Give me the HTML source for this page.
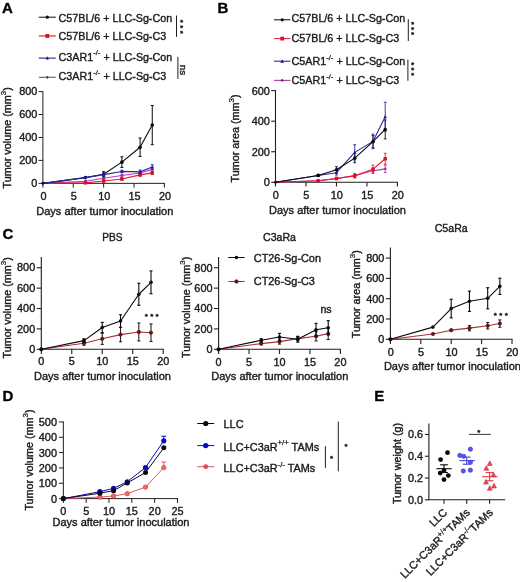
<!DOCTYPE html>
<html lang="en">
<head>
<meta charset="utf-8">
<title>Figure</title>
<style>
html,body{margin:0;padding:0;background:#fff;}
body{width:520px;height:582px;overflow:hidden;}
svg{display:block;font-family:"Liberation Sans",Arial,Helvetica,sans-serif;}
text{stroke:#1a1a1a;stroke-width:0.38px;paint-order:stroke fill;}
</style>
</head>
<body>
<svg width="520" height="582" viewBox="0 0 520 582">
<rect width="520" height="582" fill="#ffffff"/>
<text x="1.9" y="13.3" font-size="15" font-weight="bold" fill="#000">A</text>
<line x1="38.8" y1="17.2" x2="55.8" y2="17.2" stroke="#0a0a0a" stroke-width="1.0"/>
<circle cx="47.3" cy="17.2" r="1.6" fill="#0a0a0a"/>
<text x="58.6" y="22.2" font-size="10.72" fill="#1a1a1a">C57BL/6 + LLC-Sg-Con</text>
<line x1="38.8" y1="35.95" x2="55.8" y2="35.95" stroke="#e8192c" stroke-width="1.15"/>
<rect x="45.4" y="34.05" width="3.8" height="3.8" fill="#d61226"/>
<text x="58.6" y="40.05" font-size="10.72" fill="#1a1a1a">C57BL/6 + LLC-Sg-C3</text>
<line x1="38.8" y1="58.1" x2="55.8" y2="58.1" stroke="#26268e" stroke-width="1.1"/>
<polygon points="47.3,56.34 48.9,59.38 45.7,59.38" fill="#141470"/>
<text x="58.6" y="60.7" font-size="10.72" fill="#1a1a1a">C3AR1<tspan font-size="7.72" dy="-5.36" style="stroke-width:0.25px">-/-</tspan><tspan dy="5.36"> + LLC-Sg-Con</tspan></text>
<line x1="38.8" y1="77.3" x2="55.8" y2="77.3" stroke="#924092" stroke-width="1.1"/>
<polygon points="47.3,75.7 48.9,77.3 47.3,78.9 45.7,77.3" fill="#7a2478"/>
<text x="58.6" y="80.1" font-size="10.72" fill="#1a1a1a">C3AR1<tspan font-size="7.72" dy="-5.36" style="stroke-width:0.25px">-/-</tspan><tspan dy="5.36"> + LLC-Sg-C3</tspan></text>
<line x1="176.5" y1="15.5" x2="176.5" y2="36.9" stroke="#1f1f1f" stroke-width="1.0"/>
<text x="178" y="19.7" font-size="8.0" transform="rotate(90 178 19.7)" fill="#1a1a1a" letter-spacing="2.39" style="stroke-width:0.45px;stroke-linejoin:round">***</text>
<line x1="177.9" y1="56.9" x2="177.9" y2="79" stroke="#1f1f1f" stroke-width="1.0"/>
<text x="180.4" y="70" font-size="9.9" text-anchor="middle" transform="rotate(90 180.4 70)" fill="#1a1a1a">ns</text>
<path d="M42.9 91.09V183.35H164.9" fill="none" stroke="#1f1f1f" stroke-width="1.0"/>
<line x1="38.6" y1="183.35" x2="42.9" y2="183.35" stroke="#1f1f1f" stroke-width="1.0"/>
<text x="37.3" y="187.1" font-size="10.9" text-anchor="end" fill="#1a1a1a">0</text>
<line x1="38.6" y1="160.41" x2="42.9" y2="160.41" stroke="#1f1f1f" stroke-width="1.0"/>
<text x="37.3" y="164.16" font-size="10.9" text-anchor="end" fill="#1a1a1a">200</text>
<line x1="38.6" y1="137.47" x2="42.9" y2="137.47" stroke="#1f1f1f" stroke-width="1.0"/>
<text x="37.3" y="141.22" font-size="10.9" text-anchor="end" fill="#1a1a1a">400</text>
<line x1="38.6" y1="114.53" x2="42.9" y2="114.53" stroke="#1f1f1f" stroke-width="1.0"/>
<text x="37.3" y="118.28" font-size="10.9" text-anchor="end" fill="#1a1a1a">600</text>
<line x1="38.6" y1="91.59" x2="42.9" y2="91.59" stroke="#1f1f1f" stroke-width="1.0"/>
<text x="37.3" y="95.34" font-size="10.9" text-anchor="end" fill="#1a1a1a">800</text>
<line x1="42.9" y1="183.35" x2="42.9" y2="187.65" stroke="#1f1f1f" stroke-width="1.0"/>
<text x="43.5" y="199.9" font-size="10.9" text-anchor="middle" fill="#1a1a1a">0</text>
<line x1="73.28" y1="183.35" x2="73.28" y2="187.65" stroke="#1f1f1f" stroke-width="1.0"/>
<text x="73.88" y="199.9" font-size="10.9" text-anchor="middle" fill="#1a1a1a">5</text>
<line x1="103.65" y1="183.35" x2="103.65" y2="187.65" stroke="#1f1f1f" stroke-width="1.0"/>
<text x="104.25" y="199.9" font-size="10.9" text-anchor="middle" fill="#1a1a1a">10</text>
<line x1="134.03" y1="183.35" x2="134.03" y2="187.65" stroke="#1f1f1f" stroke-width="1.0"/>
<text x="134.62" y="199.9" font-size="10.9" text-anchor="middle" fill="#1a1a1a">15</text>
<line x1="164.4" y1="183.35" x2="164.4" y2="187.65" stroke="#1f1f1f" stroke-width="1.0"/>
<text x="165" y="199.9" font-size="10.9" text-anchor="middle" fill="#1a1a1a">20</text>
<text x="104.8" y="214.9" font-size="11.0" text-anchor="middle" fill="#1a1a1a">Days after tumor inoculation</text>
<text x="11.2" y="137.8" font-size="10.8" text-anchor="middle" transform="rotate(-90 11.2 137.8)" fill="#1a1a1a">Tumor volume (mm<tspan font-size="7.99" dy="-5.08" style="stroke-width:0.25px">3</tspan><tspan dy="5.08">)</tspan></text>
<path d="M85.42 180.71V181.86" fill="none" stroke="#b83cb4" stroke-width="0.9"/>
<path d="M83.92 180.71H86.92" fill="none" stroke="#b83cb4" stroke-width="0.9"/>
<path d="M83.92 181.86H86.92" fill="none" stroke="#b83cb4" stroke-width="0.9"/>
<path d="M103.65 177.04V179.34" fill="none" stroke="#b83cb4" stroke-width="0.9"/>
<path d="M102.15 177.04H105.15" fill="none" stroke="#b83cb4" stroke-width="0.9"/>
<path d="M102.15 179.34H105.15" fill="none" stroke="#b83cb4" stroke-width="0.9"/>
<path d="M121.88 174.17V176.93" fill="none" stroke="#b83cb4" stroke-width="0.9"/>
<path d="M120.38 174.17H123.38" fill="none" stroke="#b83cb4" stroke-width="0.9"/>
<path d="M120.38 176.93H123.38" fill="none" stroke="#b83cb4" stroke-width="0.9"/>
<path d="M140.1 171.42V174.63" fill="none" stroke="#b83cb4" stroke-width="0.9"/>
<path d="M138.6 171.42H141.6" fill="none" stroke="#b83cb4" stroke-width="0.9"/>
<path d="M138.6 174.63H141.6" fill="none" stroke="#b83cb4" stroke-width="0.9"/>
<path d="M152.25 167.29V171.42" fill="none" stroke="#b83cb4" stroke-width="0.9"/>
<path d="M150.75 167.29H153.75" fill="none" stroke="#b83cb4" stroke-width="0.9"/>
<path d="M150.75 171.42H153.75" fill="none" stroke="#b83cb4" stroke-width="0.9"/>
<path d="M42.9 183.35 L85.42 181.29 L103.65 178.19 L121.88 175.55 L140.1 173.03 L152.25 169.36" fill="none" stroke="#b83cb4" stroke-width="1.1" stroke-linejoin="round"/>
<polygon points="85.42,179.59 87.12,181.29 85.42,182.99 83.72,181.29" fill="#9a2e98"/>
<polygon points="103.65,176.49 105.35,178.19 103.65,179.89 101.95,178.19" fill="#9a2e98"/>
<polygon points="121.88,173.85 123.58,175.55 121.88,177.25 120.17,175.55" fill="#9a2e98"/>
<polygon points="140.1,171.33 141.8,173.03 140.1,174.73 138.4,173.03" fill="#9a2e98"/>
<polygon points="152.25,167.66 153.95,169.36 152.25,171.06 150.55,169.36" fill="#9a2e98"/>
<path d="M103.65 180.14V181.97" fill="none" stroke="#e8192c" stroke-width="0.9"/>
<path d="M102.15 180.14H105.15" fill="none" stroke="#e8192c" stroke-width="0.9"/>
<path d="M102.15 181.97H105.15" fill="none" stroke="#e8192c" stroke-width="0.9"/>
<path d="M121.88 177.84V180.14" fill="none" stroke="#e8192c" stroke-width="0.9"/>
<path d="M120.38 177.84H123.38" fill="none" stroke="#e8192c" stroke-width="0.9"/>
<path d="M120.38 180.14H123.38" fill="none" stroke="#e8192c" stroke-width="0.9"/>
<path d="M140.1 173.49V176.24" fill="none" stroke="#e8192c" stroke-width="0.9"/>
<path d="M138.6 173.49H141.6" fill="none" stroke="#e8192c" stroke-width="0.9"/>
<path d="M138.6 176.24H141.6" fill="none" stroke="#e8192c" stroke-width="0.9"/>
<path d="M152.25 171.31V174.52" fill="none" stroke="#e8192c" stroke-width="0.9"/>
<path d="M150.75 171.31H153.75" fill="none" stroke="#e8192c" stroke-width="0.9"/>
<path d="M150.75 174.52H153.75" fill="none" stroke="#e8192c" stroke-width="0.9"/>
<path d="M42.9 183.35 L85.42 182.89 L103.65 181.06 L121.88 178.99 L140.1 174.86 L152.25 172.91" fill="none" stroke="#e8192c" stroke-width="1.1" stroke-linejoin="round"/>
<rect x="83.72" y="181.19" width="3.4" height="3.4" fill="#d61226"/>
<rect x="101.95" y="179.36" width="3.4" height="3.4" fill="#d61226"/>
<rect x="120.17" y="177.29" width="3.4" height="3.4" fill="#d61226"/>
<rect x="138.4" y="173.16" width="3.4" height="3.4" fill="#d61226"/>
<rect x="150.55" y="171.21" width="3.4" height="3.4" fill="#d61226"/>
<path d="M85.42 176.7V178.53" fill="none" stroke="#0a0a0a" stroke-width="1.0"/>
<path d="M83.92 176.7H86.92" fill="none" stroke="#0a0a0a" stroke-width="1.0"/>
<path d="M83.92 178.53H86.92" fill="none" stroke="#0a0a0a" stroke-width="1.0"/>
<path d="M103.65 171.65V176.7" fill="none" stroke="#0a0a0a" stroke-width="1.0"/>
<path d="M102.15 171.65H105.15" fill="none" stroke="#0a0a0a" stroke-width="1.0"/>
<path d="M102.15 176.7H105.15" fill="none" stroke="#0a0a0a" stroke-width="1.0"/>
<path d="M121.88 156.85V167.41" fill="none" stroke="#0a0a0a" stroke-width="1.0"/>
<path d="M120.38 156.85H123.38" fill="none" stroke="#0a0a0a" stroke-width="1.0"/>
<path d="M120.38 167.41H123.38" fill="none" stroke="#0a0a0a" stroke-width="1.0"/>
<path d="M140.1 138.04V156.4" fill="none" stroke="#0a0a0a" stroke-width="1.0"/>
<path d="M138.6 138.04H141.6" fill="none" stroke="#0a0a0a" stroke-width="1.0"/>
<path d="M138.6 156.4H141.6" fill="none" stroke="#0a0a0a" stroke-width="1.0"/>
<path d="M152.25 105.47V144.7" fill="none" stroke="#0a0a0a" stroke-width="1.0"/>
<path d="M150.75 105.47H153.75" fill="none" stroke="#0a0a0a" stroke-width="1.0"/>
<path d="M150.75 144.7H153.75" fill="none" stroke="#0a0a0a" stroke-width="1.0"/>
<path d="M42.9 183.35 L85.42 177.62 L103.65 174.17 L121.88 162.13 L140.1 147.22 L152.25 125.08" fill="none" stroke="#0a0a0a" stroke-width="1.1" stroke-linejoin="round"/>
<circle cx="85.42" cy="177.62" r="1.8" fill="#0a0a0a"/>
<circle cx="103.65" cy="174.17" r="1.8" fill="#0a0a0a"/>
<circle cx="121.88" cy="162.13" r="1.8" fill="#0a0a0a"/>
<circle cx="140.1" cy="147.22" r="1.8" fill="#0a0a0a"/>
<circle cx="152.25" cy="125.08" r="1.8" fill="#0a0a0a"/>
<path d="M85.42 176.93V178.3" fill="none" stroke="#2828a4" stroke-width="0.9"/>
<path d="M83.92 176.93H86.92" fill="none" stroke="#2828a4" stroke-width="0.9"/>
<path d="M83.92 178.3H86.92" fill="none" stroke="#2828a4" stroke-width="0.9"/>
<path d="M103.65 173.26V176.01" fill="none" stroke="#2828a4" stroke-width="0.9"/>
<path d="M102.15 173.26H105.15" fill="none" stroke="#2828a4" stroke-width="0.9"/>
<path d="M102.15 176.01H105.15" fill="none" stroke="#2828a4" stroke-width="0.9"/>
<path d="M121.88 170.27V172.57" fill="none" stroke="#2828a4" stroke-width="0.9"/>
<path d="M120.38 170.27H123.38" fill="none" stroke="#2828a4" stroke-width="0.9"/>
<path d="M120.38 172.57H123.38" fill="none" stroke="#2828a4" stroke-width="0.9"/>
<path d="M140.1 170.04V173.72" fill="none" stroke="#2828a4" stroke-width="0.9"/>
<path d="M138.6 170.04H141.6" fill="none" stroke="#2828a4" stroke-width="0.9"/>
<path d="M138.6 173.72H141.6" fill="none" stroke="#2828a4" stroke-width="0.9"/>
<path d="M152.25 164.77V169.36" fill="none" stroke="#2828a4" stroke-width="0.9"/>
<path d="M150.75 164.77H153.75" fill="none" stroke="#2828a4" stroke-width="0.9"/>
<path d="M150.75 169.36H153.75" fill="none" stroke="#2828a4" stroke-width="0.9"/>
<path d="M42.9 183.35 L85.42 177.62 L103.65 174.63 L121.88 171.42 L140.1 171.88 L152.25 167.06" fill="none" stroke="#2828a4" stroke-width="1.1" stroke-linejoin="round"/>
<polygon points="85.42,175.75 87.12,178.98 83.72,178.98" fill="#1a1ab4"/>
<polygon points="103.65,172.76 105.35,175.99 101.95,175.99" fill="#1a1ab4"/>
<polygon points="121.88,169.55 123.58,172.78 120.17,172.78" fill="#1a1ab4"/>
<polygon points="140.1,170.01 141.8,173.24 138.4,173.24" fill="#1a1ab4"/>
<polygon points="152.25,165.19 153.95,168.42 150.55,168.42" fill="#1a1ab4"/>
<polygon points="42.9,181.45 44.8,183.35 42.9,185.25 41,183.35" fill="#0a0a0a"/>
<text x="217.4" y="13" font-size="15" font-weight="bold" fill="#000">B</text>
<line x1="274" y1="19.8" x2="290.4" y2="19.8" stroke="#0a0a0a" stroke-width="1.0"/>
<circle cx="282.2" cy="19.8" r="1.6" fill="#0a0a0a"/>
<text x="291.6" y="22.3" font-size="10.72" fill="#1a1a1a">C57BL/6 + LLC-Sg-Con</text>
<line x1="274" y1="38.6" x2="290.4" y2="38.6" stroke="#e8192c" stroke-width="1.0"/>
<rect x="280.3" y="36.7" width="3.8" height="3.8" fill="#d61226"/>
<text x="291.6" y="41.9" font-size="10.72" fill="#1a1a1a">C57BL/6 + LLC-Sg-C3</text>
<line x1="274" y1="61.2" x2="290.4" y2="61.2" stroke="#2c2cb0" stroke-width="1.1"/>
<polygon points="282.2,59.22 284,62.64 280.4,62.64" fill="#141470"/>
<text x="291.6" y="64.9" font-size="10.72" fill="#1a1a1a">C5AR1<tspan font-size="7.72" dy="-5.36" style="stroke-width:0.25px">-/-</tspan><tspan dy="5.36"> + LLC-Sg-Con</tspan></text>
<line x1="274" y1="80.4" x2="290.4" y2="80.4" stroke="#a840a6" stroke-width="1.1"/>
<polygon points="282.2,78.7 283.9,80.4 282.2,82.1 280.5,80.4" fill="#7a2478"/>
<text x="291.6" y="84.1" font-size="10.72" fill="#1a1a1a">C5AR1<tspan font-size="7.72" dy="-5.36" style="stroke-width:0.25px">-/-</tspan><tspan dy="5.36"> + LLC-Sg-C3</tspan></text>
<line x1="408.3" y1="19.2" x2="408.3" y2="41" stroke="#1f1f1f" stroke-width="1.0"/>
<text x="409.2" y="21.85" font-size="8.0" transform="rotate(90 409.2 21.85)" fill="#1a1a1a" letter-spacing="1.99" style="stroke-width:0.45px;stroke-linejoin:round">***</text>
<line x1="407.9" y1="59.6" x2="407.9" y2="80.8" stroke="#1f1f1f" stroke-width="1.0"/>
<text x="409.2" y="62.3" font-size="8.0" transform="rotate(90 409.2 62.3)" fill="#1a1a1a" letter-spacing="2.14" style="stroke-width:0.45px;stroke-linejoin:round">***</text>
<path d="M275.5 90.07V182.3H397.95" fill="none" stroke="#1f1f1f" stroke-width="1.1"/>
<line x1="271.2" y1="182.3" x2="275.5" y2="182.3" stroke="#1f1f1f" stroke-width="1.1"/>
<text x="269.9" y="186.2" font-size="10.9" text-anchor="end" fill="#1a1a1a">0</text>
<line x1="271.2" y1="151.74" x2="275.5" y2="151.74" stroke="#1f1f1f" stroke-width="1.1"/>
<text x="269.9" y="155.64" font-size="10.9" text-anchor="end" fill="#1a1a1a">200</text>
<line x1="271.2" y1="121.18" x2="275.5" y2="121.18" stroke="#1f1f1f" stroke-width="1.1"/>
<text x="269.9" y="125.08" font-size="10.9" text-anchor="end" fill="#1a1a1a">400</text>
<line x1="271.2" y1="90.62" x2="275.5" y2="90.62" stroke="#1f1f1f" stroke-width="1.1"/>
<text x="269.9" y="94.52" font-size="10.9" text-anchor="end" fill="#1a1a1a">600</text>
<line x1="275.5" y1="182.3" x2="275.5" y2="186.6" stroke="#1f1f1f" stroke-width="1.1"/>
<text x="275.8" y="198.8" font-size="10.9" text-anchor="middle" fill="#1a1a1a">0</text>
<line x1="305.98" y1="182.3" x2="305.98" y2="186.6" stroke="#1f1f1f" stroke-width="1.1"/>
<text x="306.28" y="198.8" font-size="10.9" text-anchor="middle" fill="#1a1a1a">5</text>
<line x1="336.45" y1="182.3" x2="336.45" y2="186.6" stroke="#1f1f1f" stroke-width="1.1"/>
<text x="336.75" y="198.8" font-size="10.9" text-anchor="middle" fill="#1a1a1a">10</text>
<line x1="366.93" y1="182.3" x2="366.93" y2="186.6" stroke="#1f1f1f" stroke-width="1.1"/>
<text x="367.23" y="198.8" font-size="10.9" text-anchor="middle" fill="#1a1a1a">15</text>
<line x1="397.4" y1="182.3" x2="397.4" y2="186.6" stroke="#1f1f1f" stroke-width="1.1"/>
<text x="397.7" y="198.8" font-size="10.9" text-anchor="middle" fill="#1a1a1a">20</text>
<text x="337.5" y="213.8" font-size="11.0" text-anchor="middle" fill="#1a1a1a">Days after tumor inoculation</text>
<text x="239.4" y="138.4" font-size="10.8" text-anchor="middle" transform="rotate(-90 239.4 138.4)" fill="#1a1a1a">Tumor area (mm<tspan font-size="7.99" dy="-5.08" style="stroke-width:0.25px">3</tspan><tspan dy="5.08">)</tspan></text>
<path d="M318.17 180.16V181.38" fill="none" stroke="#b83cb4" stroke-width="0.9"/>
<path d="M316.77 180.16H319.56" fill="none" stroke="#b83cb4" stroke-width="0.9"/>
<path d="M316.77 181.38H319.56" fill="none" stroke="#b83cb4" stroke-width="0.9"/>
<path d="M336.45 177.72V179.55" fill="none" stroke="#b83cb4" stroke-width="0.9"/>
<path d="M335.05 177.72H337.85" fill="none" stroke="#b83cb4" stroke-width="0.9"/>
<path d="M335.05 179.55H337.85" fill="none" stroke="#b83cb4" stroke-width="0.9"/>
<path d="M354.74 174.05V177.1" fill="none" stroke="#b83cb4" stroke-width="0.9"/>
<path d="M353.34 174.05H356.13" fill="none" stroke="#b83cb4" stroke-width="0.9"/>
<path d="M353.34 177.1H356.13" fill="none" stroke="#b83cb4" stroke-width="0.9"/>
<path d="M373.02 168.4V173.28" fill="none" stroke="#b83cb4" stroke-width="0.9"/>
<path d="M371.62 168.4H374.42" fill="none" stroke="#b83cb4" stroke-width="0.9"/>
<path d="M371.62 173.28H374.42" fill="none" stroke="#b83cb4" stroke-width="0.9"/>
<path d="M385.21 165.19V172.52" fill="none" stroke="#b83cb4" stroke-width="0.9"/>
<path d="M383.81 165.19H386.61" fill="none" stroke="#b83cb4" stroke-width="0.9"/>
<path d="M383.81 172.52H386.61" fill="none" stroke="#b83cb4" stroke-width="0.9"/>
<path d="M275.5 182.3 L318.17 180.77 L336.45 178.63 L354.74 175.58 L373.02 170.84 L385.21 168.85" fill="none" stroke="#b83cb4" stroke-width="1.1" stroke-linejoin="round"/>
<polygon points="318.17,179.07 319.87,180.77 318.17,182.47 316.47,180.77" fill="#9a2e98"/>
<polygon points="336.45,176.93 338.15,178.63 336.45,180.33 334.75,178.63" fill="#9a2e98"/>
<polygon points="354.74,173.88 356.44,175.58 354.74,177.28 353.04,175.58" fill="#9a2e98"/>
<polygon points="373.02,169.14 374.72,170.84 373.02,172.54 371.32,170.84" fill="#9a2e98"/>
<polygon points="385.21,167.15 386.91,168.85 385.21,170.55 383.51,168.85" fill="#9a2e98"/>
<path d="M318.17 180.16V181.38" fill="none" stroke="#e8192c" stroke-width="0.9"/>
<path d="M316.77 180.16H319.56" fill="none" stroke="#e8192c" stroke-width="0.9"/>
<path d="M316.77 181.38H319.56" fill="none" stroke="#e8192c" stroke-width="0.9"/>
<path d="M336.45 177.26V179.7" fill="none" stroke="#e8192c" stroke-width="0.9"/>
<path d="M335.05 177.26H337.85" fill="none" stroke="#e8192c" stroke-width="0.9"/>
<path d="M335.05 179.7H337.85" fill="none" stroke="#e8192c" stroke-width="0.9"/>
<path d="M354.74 173.74V178.02" fill="none" stroke="#e8192c" stroke-width="0.9"/>
<path d="M353.34 173.74H356.13" fill="none" stroke="#e8192c" stroke-width="0.9"/>
<path d="M353.34 178.02H356.13" fill="none" stroke="#e8192c" stroke-width="0.9"/>
<path d="M373.02 165.19V173.13" fill="none" stroke="#e8192c" stroke-width="0.9"/>
<path d="M371.62 165.19H374.42" fill="none" stroke="#e8192c" stroke-width="0.9"/>
<path d="M371.62 173.13H374.42" fill="none" stroke="#e8192c" stroke-width="0.9"/>
<path d="M385.21 153.27V164.27" fill="none" stroke="#e8192c" stroke-width="0.9"/>
<path d="M383.81 153.27H386.61" fill="none" stroke="#e8192c" stroke-width="0.9"/>
<path d="M383.81 164.27H386.61" fill="none" stroke="#e8192c" stroke-width="0.9"/>
<path d="M275.5 182.3 L318.17 180.77 L336.45 178.48 L354.74 175.88 L373.02 169.16 L385.21 158.77" fill="none" stroke="#e8192c" stroke-width="1.1" stroke-linejoin="round"/>
<rect x="316.47" y="179.07" width="3.4" height="3.4" fill="#d61226"/>
<rect x="334.75" y="176.78" width="3.4" height="3.4" fill="#d61226"/>
<rect x="353.04" y="174.18" width="3.4" height="3.4" fill="#d61226"/>
<rect x="371.32" y="167.46" width="3.4" height="3.4" fill="#d61226"/>
<rect x="383.51" y="157.07" width="3.4" height="3.4" fill="#d61226"/>
<path d="M318.17 174.51V176.34" fill="none" stroke="#0a0a0a" stroke-width="0.9"/>
<path d="M316.77 174.51H319.56" fill="none" stroke="#0a0a0a" stroke-width="0.9"/>
<path d="M316.77 176.34H319.56" fill="none" stroke="#0a0a0a" stroke-width="0.9"/>
<path d="M336.45 166.71V172.83" fill="none" stroke="#0a0a0a" stroke-width="0.9"/>
<path d="M335.05 166.71H337.85" fill="none" stroke="#0a0a0a" stroke-width="0.9"/>
<path d="M335.05 172.83H337.85" fill="none" stroke="#0a0a0a" stroke-width="0.9"/>
<path d="M354.74 153.57V162.74" fill="none" stroke="#0a0a0a" stroke-width="0.9"/>
<path d="M353.34 153.57H356.13" fill="none" stroke="#0a0a0a" stroke-width="0.9"/>
<path d="M353.34 162.74H356.13" fill="none" stroke="#0a0a0a" stroke-width="0.9"/>
<path d="M373.02 135.54V147.77" fill="none" stroke="#0a0a0a" stroke-width="0.9"/>
<path d="M371.62 135.54H374.42" fill="none" stroke="#0a0a0a" stroke-width="0.9"/>
<path d="M371.62 147.77H374.42" fill="none" stroke="#0a0a0a" stroke-width="0.9"/>
<path d="M385.21 119.96V138.9" fill="none" stroke="#0a0a0a" stroke-width="0.9"/>
<path d="M383.81 119.96H386.61" fill="none" stroke="#0a0a0a" stroke-width="0.9"/>
<path d="M383.81 138.9H386.61" fill="none" stroke="#0a0a0a" stroke-width="0.9"/>
<path d="M318.17 174.51V176.34" fill="none" stroke="#2828a4" stroke-width="0.9"/>
<path d="M316.77 174.51H319.56" fill="none" stroke="#2828a4" stroke-width="0.9"/>
<path d="M316.77 176.34H319.56" fill="none" stroke="#2828a4" stroke-width="0.9"/>
<path d="M336.45 170.23V175.12" fill="none" stroke="#2828a4" stroke-width="0.9"/>
<path d="M335.05 170.23H337.85" fill="none" stroke="#2828a4" stroke-width="0.9"/>
<path d="M335.05 175.12H337.85" fill="none" stroke="#2828a4" stroke-width="0.9"/>
<path d="M354.74 144.71V159.99" fill="none" stroke="#2828a4" stroke-width="0.9"/>
<path d="M353.34 144.71H356.13" fill="none" stroke="#2828a4" stroke-width="0.9"/>
<path d="M353.34 159.99H356.13" fill="none" stroke="#2828a4" stroke-width="0.9"/>
<path d="M373.02 134.02V148.68" fill="none" stroke="#2828a4" stroke-width="0.9"/>
<path d="M371.62 134.02H374.42" fill="none" stroke="#2828a4" stroke-width="0.9"/>
<path d="M371.62 148.68H374.42" fill="none" stroke="#2828a4" stroke-width="0.9"/>
<path d="M385.21 102.23V131.26" fill="none" stroke="#2828a4" stroke-width="0.9"/>
<path d="M383.81 102.23H386.61" fill="none" stroke="#2828a4" stroke-width="0.9"/>
<path d="M383.81 131.26H386.61" fill="none" stroke="#2828a4" stroke-width="0.9"/>
<path d="M275.5 182.3 L318.17 175.42 L336.45 172.67 L354.74 152.35 L373.02 141.35 L385.21 116.75" fill="none" stroke="#2828a4" stroke-width="1.1" stroke-linejoin="round"/>
<polygon points="318.17,173.55 319.87,176.78 316.47,176.78" fill="#1a1ab4"/>
<polygon points="336.45,170.8 338.15,174.03 334.75,174.03" fill="#1a1ab4"/>
<polygon points="354.74,150.48 356.44,153.71 353.04,153.71" fill="#1a1ab4"/>
<polygon points="373.02,139.48 374.72,142.71 371.32,142.71" fill="#1a1ab4"/>
<polygon points="385.21,114.88 386.91,118.11 383.51,118.11" fill="#1a1ab4"/>
<path d="M275.5 182.3 L318.17 175.42 L336.45 169.77 L354.74 158.16 L373.02 141.66 L385.21 129.43" fill="none" stroke="#0a0a0a" stroke-width="1.1" stroke-linejoin="round"/>
<circle cx="318.17" cy="175.42" r="1.8" fill="#0a0a0a"/>
<circle cx="336.45" cy="169.77" r="1.8" fill="#0a0a0a"/>
<circle cx="354.74" cy="158.16" r="1.8" fill="#0a0a0a"/>
<circle cx="373.02" cy="141.66" r="1.8" fill="#0a0a0a"/>
<circle cx="385.21" cy="129.43" r="1.8" fill="#0a0a0a"/>
<polygon points="275.5,180.4 277.4,182.3 275.5,184.2 273.6,182.3" fill="#0a0a0a"/>
<text x="2.4" y="239" font-size="15" font-weight="bold" fill="#000">C</text>
<text x="112.4" y="241.3" font-size="10.1" text-anchor="middle" fill="#1a1a1a">PBS</text>
<path d="M41.3 257V349.3H163.75" fill="none" stroke="#1f1f1f" stroke-width="1.1"/>
<line x1="36.7" y1="349.3" x2="41.3" y2="349.3" stroke="#1f1f1f" stroke-width="1.1"/>
<text x="35.2" y="352.9" font-size="10.9" text-anchor="end" fill="#1a1a1a">0</text>
<line x1="36.7" y1="328.91" x2="41.3" y2="328.91" stroke="#1f1f1f" stroke-width="1.1"/>
<text x="35.2" y="332.51" font-size="10.9" text-anchor="end" fill="#1a1a1a">200</text>
<line x1="36.7" y1="308.52" x2="41.3" y2="308.52" stroke="#1f1f1f" stroke-width="1.1"/>
<text x="35.2" y="312.12" font-size="10.9" text-anchor="end" fill="#1a1a1a">400</text>
<line x1="36.7" y1="288.13" x2="41.3" y2="288.13" stroke="#1f1f1f" stroke-width="1.1"/>
<text x="35.2" y="291.73" font-size="10.9" text-anchor="end" fill="#1a1a1a">600</text>
<line x1="36.7" y1="267.74" x2="41.3" y2="267.74" stroke="#1f1f1f" stroke-width="1.1"/>
<text x="35.2" y="271.34" font-size="10.9" text-anchor="end" fill="#1a1a1a">800</text>
<line x1="41.3" y1="349.3" x2="41.3" y2="353.9" stroke="#1f1f1f" stroke-width="1.1"/>
<text x="41.3" y="365.1" font-size="10.9" text-anchor="middle" fill="#1a1a1a">0</text>
<line x1="71.77" y1="349.3" x2="71.77" y2="353.9" stroke="#1f1f1f" stroke-width="1.1"/>
<text x="71.77" y="365.1" font-size="10.9" text-anchor="middle" fill="#1a1a1a">5</text>
<line x1="102.25" y1="349.3" x2="102.25" y2="353.9" stroke="#1f1f1f" stroke-width="1.1"/>
<text x="102.25" y="365.1" font-size="10.9" text-anchor="middle" fill="#1a1a1a">10</text>
<line x1="132.72" y1="349.3" x2="132.72" y2="353.9" stroke="#1f1f1f" stroke-width="1.1"/>
<text x="132.72" y="365.1" font-size="10.9" text-anchor="middle" fill="#1a1a1a">15</text>
<line x1="163.2" y1="349.3" x2="163.2" y2="353.9" stroke="#1f1f1f" stroke-width="1.1"/>
<text x="163.2" y="365.1" font-size="10.9" text-anchor="middle" fill="#1a1a1a">20</text>
<text x="102.5" y="379.6" font-size="11.0" text-anchor="middle" fill="#1a1a1a">Days after tumor inoculation</text>
<text x="11.2" y="307.8" font-size="10.8" text-anchor="middle" transform="rotate(-90 11.2 307.8)" fill="#1a1a1a">Tumor volume (mm<tspan font-size="7.99" dy="-5.08" style="stroke-width:0.25px">3</tspan><tspan dy="5.08">)</tspan></text>
<path d="M83.97 341.14V345.22" fill="none" stroke="#2a2222" stroke-width="1.1"/>
<path d="M82.42 341.14H85.52" fill="none" stroke="#2a2222" stroke-width="1.1"/>
<path d="M82.42 345.22H85.52" fill="none" stroke="#2a2222" stroke-width="1.1"/>
<path d="M102.25 333.19V344.41" fill="none" stroke="#2a2222" stroke-width="1.1"/>
<path d="M100.7 333.19H103.8" fill="none" stroke="#2a2222" stroke-width="1.1"/>
<path d="M100.7 344.41H103.8" fill="none" stroke="#2a2222" stroke-width="1.1"/>
<path d="M120.53 327.48V341.76" fill="none" stroke="#2a2222" stroke-width="1.1"/>
<path d="M118.98 327.48H122.08" fill="none" stroke="#2a2222" stroke-width="1.1"/>
<path d="M118.98 341.76H122.08" fill="none" stroke="#2a2222" stroke-width="1.1"/>
<path d="M138.82 323V340.94" fill="none" stroke="#2a2222" stroke-width="1.1"/>
<path d="M137.27 323H140.37" fill="none" stroke="#2a2222" stroke-width="1.1"/>
<path d="M137.27 340.94H140.37" fill="none" stroke="#2a2222" stroke-width="1.1"/>
<path d="M151.01 323.91V341.45" fill="none" stroke="#2a2222" stroke-width="1.1"/>
<path d="M149.46 323.91H152.56" fill="none" stroke="#2a2222" stroke-width="1.1"/>
<path d="M149.46 341.45H152.56" fill="none" stroke="#2a2222" stroke-width="1.1"/>
<path d="M41.3 349.3 L83.97 343.18 L102.25 338.8 L120.53 334.62 L138.82 331.97 L151.01 332.68" fill="none" stroke="#b02c36" stroke-width="1.1" stroke-linejoin="round"/>
<circle cx="41.3" cy="349.3" r="1.7" fill="#6e1520" stroke="#3a0c10" stroke-width="0.6"/>
<circle cx="83.97" cy="343.18" r="1.7" fill="#6e1520" stroke="#3a0c10" stroke-width="0.6"/>
<circle cx="102.25" cy="338.8" r="1.7" fill="#6e1520" stroke="#3a0c10" stroke-width="0.6"/>
<circle cx="120.53" cy="334.62" r="1.7" fill="#6e1520" stroke="#3a0c10" stroke-width="0.6"/>
<circle cx="138.82" cy="331.97" r="1.7" fill="#6e1520" stroke="#3a0c10" stroke-width="0.6"/>
<circle cx="151.01" cy="332.68" r="1.7" fill="#6e1520" stroke="#3a0c10" stroke-width="0.6"/>
<path d="M83.97 338.8V342.47" fill="none" stroke="#0a0a0a" stroke-width="1.1"/>
<path d="M82.42 338.8H85.52" fill="none" stroke="#0a0a0a" stroke-width="1.1"/>
<path d="M82.42 342.47H85.52" fill="none" stroke="#0a0a0a" stroke-width="1.1"/>
<path d="M102.25 322.39V332.58" fill="none" stroke="#0a0a0a" stroke-width="1.1"/>
<path d="M100.7 322.39H103.8" fill="none" stroke="#0a0a0a" stroke-width="1.1"/>
<path d="M100.7 332.58H103.8" fill="none" stroke="#0a0a0a" stroke-width="1.1"/>
<path d="M120.53 314.74V327.38" fill="none" stroke="#0a0a0a" stroke-width="1.1"/>
<path d="M118.98 314.74H122.08" fill="none" stroke="#0a0a0a" stroke-width="1.1"/>
<path d="M118.98 327.38H122.08" fill="none" stroke="#0a0a0a" stroke-width="1.1"/>
<path d="M138.82 283.24V305.26" fill="none" stroke="#0a0a0a" stroke-width="1.1"/>
<path d="M137.27 283.24H140.37" fill="none" stroke="#0a0a0a" stroke-width="1.1"/>
<path d="M137.27 305.26H140.37" fill="none" stroke="#0a0a0a" stroke-width="1.1"/>
<path d="M151.01 270.9V293.74" fill="none" stroke="#0a0a0a" stroke-width="1.1"/>
<path d="M149.46 270.9H152.56" fill="none" stroke="#0a0a0a" stroke-width="1.1"/>
<path d="M149.46 293.74H152.56" fill="none" stroke="#0a0a0a" stroke-width="1.1"/>
<path d="M41.3 349.3 L83.97 340.63 L102.25 327.48 L120.53 321.06 L138.82 294.25 L151.01 282.32" fill="none" stroke="#0a0a0a" stroke-width="1.1" stroke-linejoin="round"/>
<circle cx="41.3" cy="349.3" r="1.8" fill="#0a0a0a"/>
<circle cx="83.97" cy="340.63" r="1.8" fill="#0a0a0a"/>
<circle cx="102.25" cy="327.48" r="1.8" fill="#0a0a0a"/>
<circle cx="120.53" cy="321.06" r="1.8" fill="#0a0a0a"/>
<circle cx="138.82" cy="294.25" r="1.8" fill="#0a0a0a"/>
<circle cx="151.01" cy="282.32" r="1.8" fill="#0a0a0a"/>
<text x="144.75" y="318.9" font-size="8.0" fill="#1a1a1a" letter-spacing="2.29" style="stroke-width:0.45px;stroke-linejoin:round">***</text>
<text x="279.5" y="241.4" font-size="10.6" text-anchor="middle" fill="#1a1a1a">C3aRa</text>
<path d="M218.6 257V349.3H340.95" fill="none" stroke="#1f1f1f" stroke-width="1.1"/>
<line x1="214" y1="349.3" x2="218.6" y2="349.3" stroke="#1f1f1f" stroke-width="1.1"/>
<text x="212.5" y="353.2" font-size="10.9" text-anchor="end" fill="#1a1a1a">0</text>
<line x1="214" y1="328.91" x2="218.6" y2="328.91" stroke="#1f1f1f" stroke-width="1.1"/>
<text x="212.5" y="332.81" font-size="10.9" text-anchor="end" fill="#1a1a1a">200</text>
<line x1="214" y1="308.52" x2="218.6" y2="308.52" stroke="#1f1f1f" stroke-width="1.1"/>
<text x="212.5" y="312.42" font-size="10.9" text-anchor="end" fill="#1a1a1a">400</text>
<line x1="214" y1="288.13" x2="218.6" y2="288.13" stroke="#1f1f1f" stroke-width="1.1"/>
<text x="212.5" y="292.03" font-size="10.9" text-anchor="end" fill="#1a1a1a">600</text>
<line x1="214" y1="267.74" x2="218.6" y2="267.74" stroke="#1f1f1f" stroke-width="1.1"/>
<text x="212.5" y="271.64" font-size="10.9" text-anchor="end" fill="#1a1a1a">800</text>
<line x1="218.6" y1="349.3" x2="218.6" y2="353.9" stroke="#1f1f1f" stroke-width="1.1"/>
<text x="218.6" y="365.6" font-size="10.9" text-anchor="middle" fill="#1a1a1a">0</text>
<line x1="249.05" y1="349.3" x2="249.05" y2="353.9" stroke="#1f1f1f" stroke-width="1.1"/>
<text x="249.05" y="365.6" font-size="10.9" text-anchor="middle" fill="#1a1a1a">5</text>
<line x1="279.5" y1="349.3" x2="279.5" y2="353.9" stroke="#1f1f1f" stroke-width="1.1"/>
<text x="279.5" y="365.6" font-size="10.9" text-anchor="middle" fill="#1a1a1a">10</text>
<line x1="309.95" y1="349.3" x2="309.95" y2="353.9" stroke="#1f1f1f" stroke-width="1.1"/>
<text x="309.95" y="365.6" font-size="10.9" text-anchor="middle" fill="#1a1a1a">15</text>
<line x1="340.4" y1="349.3" x2="340.4" y2="353.9" stroke="#1f1f1f" stroke-width="1.1"/>
<text x="340.4" y="365.6" font-size="10.9" text-anchor="middle" fill="#1a1a1a">20</text>
<text x="279.8" y="379.6" font-size="11.0" text-anchor="middle" fill="#1a1a1a">Days after tumor inoculation</text>
<text x="189.6" y="307.3" font-size="10.8" text-anchor="middle" transform="rotate(-90 189.6 307.3)" fill="#1a1a1a">Tumor volume (mm<tspan font-size="7.99" dy="-5.08" style="stroke-width:0.25px">3</tspan><tspan dy="5.08">)</tspan></text>
<line x1="228.3" y1="257.5" x2="244.6" y2="257.5" stroke="#0a0a0a" stroke-width="1.0"/>
<circle cx="236.45" cy="257.5" r="1.75" fill="#0a0a0a"/>
<text x="253.8" y="261.96" font-size="10.9" fill="#1a1a1a">CT26-Sg-Con</text>
<line x1="228.3" y1="281.5" x2="244.6" y2="281.5" stroke="#b02c36" stroke-width="1.0"/>
<circle cx="236.45" cy="281.5" r="1.8" fill="#6e1520" stroke="#3a0c10" stroke-width="0.6"/>
<text x="253.8" y="285.36" font-size="10.9" fill="#1a1a1a">CT26-Sg-C3</text>
<path d="M261.23 342.37V344.81" fill="none" stroke="#2a2222" stroke-width="1.1"/>
<path d="M259.68 342.37H262.78" fill="none" stroke="#2a2222" stroke-width="1.1"/>
<path d="M259.68 344.81H262.78" fill="none" stroke="#2a2222" stroke-width="1.1"/>
<path d="M279.5 339.21V344.1" fill="none" stroke="#2a2222" stroke-width="1.1"/>
<path d="M277.95 339.21H281.05" fill="none" stroke="#2a2222" stroke-width="1.1"/>
<path d="M277.95 344.1H281.05" fill="none" stroke="#2a2222" stroke-width="1.1"/>
<path d="M297.77 336.35V340.84" fill="none" stroke="#2a2222" stroke-width="1.1"/>
<path d="M296.22 336.35H299.32" fill="none" stroke="#2a2222" stroke-width="1.1"/>
<path d="M296.22 340.84H299.32" fill="none" stroke="#2a2222" stroke-width="1.1"/>
<path d="M316.04 331.56V340.94" fill="none" stroke="#2a2222" stroke-width="1.1"/>
<path d="M314.49 331.56H317.59" fill="none" stroke="#2a2222" stroke-width="1.1"/>
<path d="M314.49 340.94H317.59" fill="none" stroke="#2a2222" stroke-width="1.1"/>
<path d="M328.22 327.69V339.51" fill="none" stroke="#2a2222" stroke-width="1.1"/>
<path d="M326.67 327.69H329.77" fill="none" stroke="#2a2222" stroke-width="1.1"/>
<path d="M326.67 339.51H329.77" fill="none" stroke="#2a2222" stroke-width="1.1"/>
<path d="M218.6 349.3 L261.23 343.59 L279.5 341.65 L297.77 338.6 L316.04 336.25 L328.22 333.6" fill="none" stroke="#b02c36" stroke-width="1.1" stroke-linejoin="round"/>
<circle cx="218.6" cy="349.3" r="1.7" fill="#6e1520" stroke="#3a0c10" stroke-width="0.6"/>
<circle cx="261.23" cy="343.59" r="1.7" fill="#6e1520" stroke="#3a0c10" stroke-width="0.6"/>
<circle cx="279.5" cy="341.65" r="1.7" fill="#6e1520" stroke="#3a0c10" stroke-width="0.6"/>
<circle cx="297.77" cy="338.6" r="1.7" fill="#6e1520" stroke="#3a0c10" stroke-width="0.6"/>
<circle cx="316.04" cy="336.25" r="1.7" fill="#6e1520" stroke="#3a0c10" stroke-width="0.6"/>
<circle cx="328.22" cy="333.6" r="1.7" fill="#6e1520" stroke="#3a0c10" stroke-width="0.6"/>
<path d="M261.23 338.7V341.96" fill="none" stroke="#0a0a0a" stroke-width="1.1"/>
<path d="M259.68 338.7H262.78" fill="none" stroke="#0a0a0a" stroke-width="1.1"/>
<path d="M259.68 341.96H262.78" fill="none" stroke="#0a0a0a" stroke-width="1.1"/>
<path d="M279.5 333.4V340.74" fill="none" stroke="#0a0a0a" stroke-width="1.1"/>
<path d="M277.95 333.4H281.05" fill="none" stroke="#0a0a0a" stroke-width="1.1"/>
<path d="M277.95 340.74H281.05" fill="none" stroke="#0a0a0a" stroke-width="1.1"/>
<path d="M297.77 336.45V342.16" fill="none" stroke="#0a0a0a" stroke-width="1.1"/>
<path d="M296.22 336.45H299.32" fill="none" stroke="#0a0a0a" stroke-width="1.1"/>
<path d="M296.22 342.16H299.32" fill="none" stroke="#0a0a0a" stroke-width="1.1"/>
<path d="M316.04 323.4V336.05" fill="none" stroke="#0a0a0a" stroke-width="1.1"/>
<path d="M314.49 323.4H317.59" fill="none" stroke="#0a0a0a" stroke-width="1.1"/>
<path d="M314.49 336.05H317.59" fill="none" stroke="#0a0a0a" stroke-width="1.1"/>
<path d="M328.22 320.65V334.93" fill="none" stroke="#0a0a0a" stroke-width="1.1"/>
<path d="M326.67 320.65H329.77" fill="none" stroke="#0a0a0a" stroke-width="1.1"/>
<path d="M326.67 334.93H329.77" fill="none" stroke="#0a0a0a" stroke-width="1.1"/>
<path d="M218.6 349.3 L261.23 340.33 L279.5 337.07 L297.77 339.31 L316.04 329.73 L328.22 327.79" fill="none" stroke="#0a0a0a" stroke-width="1.1" stroke-linejoin="round"/>
<circle cx="218.6" cy="349.3" r="1.8" fill="#0a0a0a"/>
<circle cx="261.23" cy="340.33" r="1.8" fill="#0a0a0a"/>
<circle cx="279.5" cy="337.07" r="1.8" fill="#0a0a0a"/>
<circle cx="297.77" cy="339.31" r="1.8" fill="#0a0a0a"/>
<circle cx="316.04" cy="329.73" r="1.8" fill="#0a0a0a"/>
<circle cx="328.22" cy="327.79" r="1.8" fill="#0a0a0a"/>
<text x="326" y="313.1" font-size="10.6" text-anchor="middle" fill="#1a1a1a">ns</text>
<text x="451.2" y="231.9" font-size="10.6" text-anchor="middle" fill="#1a1a1a">C5aRa</text>
<path d="M390.4 247.4V339.3H512.55" fill="none" stroke="#1f1f1f" stroke-width="1.1"/>
<line x1="385.8" y1="339.3" x2="390.4" y2="339.3" stroke="#1f1f1f" stroke-width="1.1"/>
<text x="384.3" y="343.2" font-size="10.9" text-anchor="end" fill="#1a1a1a">0</text>
<line x1="385.8" y1="319" x2="390.4" y2="319" stroke="#1f1f1f" stroke-width="1.1"/>
<text x="384.3" y="322.9" font-size="10.9" text-anchor="end" fill="#1a1a1a">200</text>
<line x1="385.8" y1="298.7" x2="390.4" y2="298.7" stroke="#1f1f1f" stroke-width="1.1"/>
<text x="384.3" y="302.6" font-size="10.9" text-anchor="end" fill="#1a1a1a">400</text>
<line x1="385.8" y1="278.4" x2="390.4" y2="278.4" stroke="#1f1f1f" stroke-width="1.1"/>
<text x="384.3" y="282.3" font-size="10.9" text-anchor="end" fill="#1a1a1a">600</text>
<line x1="385.8" y1="258.1" x2="390.4" y2="258.1" stroke="#1f1f1f" stroke-width="1.1"/>
<text x="384.3" y="262" font-size="10.9" text-anchor="end" fill="#1a1a1a">800</text>
<line x1="390.4" y1="339.3" x2="390.4" y2="343.9" stroke="#1f1f1f" stroke-width="1.1"/>
<text x="390.7" y="355.6" font-size="10.9" text-anchor="middle" fill="#1a1a1a">0</text>
<line x1="420.8" y1="339.3" x2="420.8" y2="343.9" stroke="#1f1f1f" stroke-width="1.1"/>
<text x="421.1" y="355.6" font-size="10.9" text-anchor="middle" fill="#1a1a1a">5</text>
<line x1="451.2" y1="339.3" x2="451.2" y2="343.9" stroke="#1f1f1f" stroke-width="1.1"/>
<text x="451.5" y="355.6" font-size="10.9" text-anchor="middle" fill="#1a1a1a">10</text>
<line x1="481.6" y1="339.3" x2="481.6" y2="343.9" stroke="#1f1f1f" stroke-width="1.1"/>
<text x="481.9" y="355.6" font-size="10.9" text-anchor="middle" fill="#1a1a1a">15</text>
<line x1="512" y1="339.3" x2="512" y2="343.9" stroke="#1f1f1f" stroke-width="1.1"/>
<text x="512.3" y="355.6" font-size="10.9" text-anchor="middle" fill="#1a1a1a">20</text>
<text x="452.4" y="369.8" font-size="11.0" text-anchor="middle" fill="#1a1a1a">Days after tumor inoculation</text>
<text x="359.6" y="294.2" font-size="10.8" text-anchor="middle" transform="rotate(-90 359.6 294.2)" fill="#1a1a1a">Tumor area (mm<tspan font-size="7.99" dy="-5.08" style="stroke-width:0.25px">3</tspan><tspan dy="5.08">)</tspan></text>
<path d="M451.2 329.35V330.98" fill="none" stroke="#2a2222" stroke-width="1.1"/>
<path d="M449.65 329.35H452.75" fill="none" stroke="#2a2222" stroke-width="1.1"/>
<path d="M449.65 330.98H452.75" fill="none" stroke="#2a2222" stroke-width="1.1"/>
<path d="M469.44 325.5V330.77" fill="none" stroke="#2a2222" stroke-width="1.1"/>
<path d="M467.89 325.5H470.99" fill="none" stroke="#2a2222" stroke-width="1.1"/>
<path d="M467.89 330.77H470.99" fill="none" stroke="#2a2222" stroke-width="1.1"/>
<path d="M487.68 322.45V328.95" fill="none" stroke="#2a2222" stroke-width="1.1"/>
<path d="M486.13 322.45H489.23" fill="none" stroke="#2a2222" stroke-width="1.1"/>
<path d="M486.13 328.95H489.23" fill="none" stroke="#2a2222" stroke-width="1.1"/>
<path d="M499.84 319.91V327.22" fill="none" stroke="#2a2222" stroke-width="1.1"/>
<path d="M498.29 319.91H501.39" fill="none" stroke="#2a2222" stroke-width="1.1"/>
<path d="M498.29 327.22H501.39" fill="none" stroke="#2a2222" stroke-width="1.1"/>
<path d="M390.4 339.3 L432.96 334.02 L451.2 330.17 L469.44 328.13 L487.68 325.7 L499.84 323.57" fill="none" stroke="#b02c36" stroke-width="1.1" stroke-linejoin="round"/>
<circle cx="390.4" cy="339.3" r="1.7" fill="#6e1520" stroke="#3a0c10" stroke-width="0.6"/>
<circle cx="432.96" cy="334.02" r="1.7" fill="#6e1520" stroke="#3a0c10" stroke-width="0.6"/>
<circle cx="451.2" cy="330.17" r="1.7" fill="#6e1520" stroke="#3a0c10" stroke-width="0.6"/>
<circle cx="469.44" cy="328.13" r="1.7" fill="#6e1520" stroke="#3a0c10" stroke-width="0.6"/>
<circle cx="487.68" cy="325.7" r="1.7" fill="#6e1520" stroke="#3a0c10" stroke-width="0.6"/>
<circle cx="499.84" cy="323.57" r="1.7" fill="#6e1520" stroke="#3a0c10" stroke-width="0.6"/>
<path d="M451.2 299.21V317.88" fill="none" stroke="#0a0a0a" stroke-width="1.1"/>
<path d="M449.65 299.21H452.75" fill="none" stroke="#0a0a0a" stroke-width="1.1"/>
<path d="M449.65 317.88H452.75" fill="none" stroke="#0a0a0a" stroke-width="1.1"/>
<path d="M469.44 291.09V311.39" fill="none" stroke="#0a0a0a" stroke-width="1.1"/>
<path d="M467.89 291.09H470.99" fill="none" stroke="#0a0a0a" stroke-width="1.1"/>
<path d="M467.89 311.39H470.99" fill="none" stroke="#0a0a0a" stroke-width="1.1"/>
<path d="M487.68 287.74V308.85" fill="none" stroke="#0a0a0a" stroke-width="1.1"/>
<path d="M486.13 287.74H489.23" fill="none" stroke="#0a0a0a" stroke-width="1.1"/>
<path d="M486.13 308.85H489.23" fill="none" stroke="#0a0a0a" stroke-width="1.1"/>
<path d="M499.84 278.2V294.44" fill="none" stroke="#0a0a0a" stroke-width="1.1"/>
<path d="M498.29 278.2H501.39" fill="none" stroke="#0a0a0a" stroke-width="1.1"/>
<path d="M498.29 294.44H501.39" fill="none" stroke="#0a0a0a" stroke-width="1.1"/>
<path d="M390.4 339.3 L432.96 327.12 L451.2 308.55 L469.44 301.24 L487.68 298.29 L499.84 286.32" fill="none" stroke="#0a0a0a" stroke-width="1.1" stroke-linejoin="round"/>
<circle cx="390.4" cy="339.3" r="1.8" fill="#0a0a0a"/>
<circle cx="432.96" cy="327.12" r="1.8" fill="#0a0a0a"/>
<circle cx="451.2" cy="308.55" r="1.8" fill="#0a0a0a"/>
<circle cx="469.44" cy="301.24" r="1.8" fill="#0a0a0a"/>
<circle cx="487.68" cy="298.29" r="1.8" fill="#0a0a0a"/>
<circle cx="499.84" cy="286.32" r="1.8" fill="#0a0a0a"/>
<text x="493.85" y="318" font-size="8.0" fill="#1a1a1a" letter-spacing="2.29" style="stroke-width:0.45px;stroke-linejoin:round">***</text>
<text x="2.4" y="401.4" font-size="15" font-weight="bold" fill="#000">D</text>
<path d="M63.35 421.45V498.6H177.98" fill="none" stroke="#1f1f1f" stroke-width="1.0"/>
<line x1="59.05" y1="498.6" x2="63.35" y2="498.6" stroke="#1f1f1f" stroke-width="1.0"/>
<text x="56.95" y="502.5" font-size="10.9" text-anchor="end" fill="#1a1a1a">0</text>
<line x1="59.05" y1="483.27" x2="63.35" y2="483.27" stroke="#1f1f1f" stroke-width="1.0"/>
<text x="56.95" y="487.17" font-size="10.9" text-anchor="end" fill="#1a1a1a">100</text>
<line x1="59.05" y1="467.94" x2="63.35" y2="467.94" stroke="#1f1f1f" stroke-width="1.0"/>
<text x="56.95" y="471.84" font-size="10.9" text-anchor="end" fill="#1a1a1a">200</text>
<line x1="59.05" y1="452.61" x2="63.35" y2="452.61" stroke="#1f1f1f" stroke-width="1.0"/>
<text x="56.95" y="456.51" font-size="10.9" text-anchor="end" fill="#1a1a1a">300</text>
<line x1="59.05" y1="437.28" x2="63.35" y2="437.28" stroke="#1f1f1f" stroke-width="1.0"/>
<text x="56.95" y="441.18" font-size="10.9" text-anchor="end" fill="#1a1a1a">400</text>
<line x1="59.05" y1="421.95" x2="63.35" y2="421.95" stroke="#1f1f1f" stroke-width="1.0"/>
<text x="56.95" y="425.85" font-size="10.9" text-anchor="end" fill="#1a1a1a">500</text>
<line x1="63.35" y1="498.6" x2="63.35" y2="502.9" stroke="#1f1f1f" stroke-width="1.0"/>
<text x="63.35" y="515.4" font-size="10.9" text-anchor="middle" fill="#1a1a1a">0</text>
<line x1="86.18" y1="498.6" x2="86.18" y2="502.9" stroke="#1f1f1f" stroke-width="1.0"/>
<text x="86.18" y="515.4" font-size="10.9" text-anchor="middle" fill="#1a1a1a">5</text>
<line x1="109" y1="498.6" x2="109" y2="502.9" stroke="#1f1f1f" stroke-width="1.0"/>
<text x="109" y="515.4" font-size="10.9" text-anchor="middle" fill="#1a1a1a">10</text>
<line x1="131.83" y1="498.6" x2="131.83" y2="502.9" stroke="#1f1f1f" stroke-width="1.0"/>
<text x="131.83" y="515.4" font-size="10.9" text-anchor="middle" fill="#1a1a1a">15</text>
<line x1="154.65" y1="498.6" x2="154.65" y2="502.9" stroke="#1f1f1f" stroke-width="1.0"/>
<text x="154.65" y="515.4" font-size="10.9" text-anchor="middle" fill="#1a1a1a">20</text>
<line x1="177.48" y1="498.6" x2="177.48" y2="502.9" stroke="#1f1f1f" stroke-width="1.0"/>
<text x="177.48" y="515.4" font-size="10.9" text-anchor="middle" fill="#1a1a1a">25</text>
<text x="121" y="526.4" font-size="11.0" text-anchor="middle" fill="#1a1a1a">Days after tumor inoculation</text>
<text x="32.9" y="460" font-size="10.8" text-anchor="middle" transform="rotate(-90 32.9 460)" fill="#1a1a1a">Tumor volume (mm<tspan font-size="7.99" dy="-5.08" style="stroke-width:0.25px">3</tspan><tspan dy="5.08">)</tspan></text>
<path d="M163.78 462.11V467.63" fill="none" stroke="#ec5558" stroke-width="1.0"/>
<path d="M161.38 462.11H166.18" fill="none" stroke="#ec5558" stroke-width="1.0"/>
<path d="M63.35 498.6 L99.87 497.07 L113.56 495.99 L127.26 493.69 L145.52 487.1 L163.78 467.63" fill="none" stroke="#ec5558" stroke-width="1.0" stroke-linejoin="round"/>
<circle cx="63.35" cy="498.6" r="2.2" fill="#f0686a" stroke="#e8404a" stroke-width="0.8"/>
<circle cx="99.87" cy="497.07" r="2.2" fill="#f0686a" stroke="#e8404a" stroke-width="0.8"/>
<circle cx="113.56" cy="495.99" r="2.2" fill="#f0686a" stroke="#e8404a" stroke-width="0.8"/>
<circle cx="127.26" cy="493.69" r="2.2" fill="#f0686a" stroke="#e8404a" stroke-width="0.8"/>
<circle cx="145.52" cy="487.1" r="2.2" fill="#f0686a" stroke="#e8404a" stroke-width="0.8"/>
<circle cx="163.78" cy="467.63" r="2.2" fill="#f0686a" stroke="#e8404a" stroke-width="0.8"/>
<path d="M163.78 436.21V440.81" fill="none" stroke="#0808c8" stroke-width="1.0"/>
<path d="M161.38 436.21H166.18" fill="none" stroke="#0808c8" stroke-width="1.0"/>
<path d="M63.35 498.6 L99.87 491.7 L113.56 488.33 L127.26 481.74 L145.52 467.48 L163.78 440.81" fill="none" stroke="#0808c8" stroke-width="1.0" stroke-linejoin="round"/>
<circle cx="63.35" cy="498.6" r="2.6" fill="#0808c8"/>
<circle cx="99.87" cy="491.7" r="2.6" fill="#0808c8"/>
<circle cx="113.56" cy="488.33" r="2.6" fill="#0808c8"/>
<circle cx="127.26" cy="481.74" r="2.6" fill="#0808c8"/>
<circle cx="145.52" cy="467.48" r="2.6" fill="#0808c8"/>
<circle cx="163.78" cy="440.81" r="2.6" fill="#0808c8"/>
<path d="M63.35 498.6 L99.87 493.23 L113.56 490.63 L127.26 482.96 L145.52 472.54 L163.78 447.86" fill="none" stroke="#0a0a0a" stroke-width="1.0" stroke-linejoin="round"/>
<circle cx="63.35" cy="498.6" r="2.5" fill="#0a0a0a"/>
<circle cx="99.87" cy="493.23" r="2.5" fill="#0a0a0a"/>
<circle cx="113.56" cy="490.63" r="2.5" fill="#0a0a0a"/>
<circle cx="127.26" cy="482.96" r="2.5" fill="#0a0a0a"/>
<circle cx="145.52" cy="472.54" r="2.5" fill="#0a0a0a"/>
<circle cx="163.78" cy="447.86" r="2.5" fill="#0a0a0a"/>
<line x1="197.3" y1="423.5" x2="214.2" y2="423.5" stroke="#0a0a0a" stroke-width="1.0"/>
<circle cx="205.75" cy="423.5" r="2.6" fill="#0a0a0a"/>
<text x="223.6" y="427.64" font-size="10.85" fill="#1a1a1a">LLC</text>
<line x1="197.3" y1="445.6" x2="214.2" y2="445.6" stroke="#0808c8" stroke-width="1.0"/>
<circle cx="205.75" cy="445.6" r="2.7" fill="#0808c8"/>
<text x="223.6" y="450.84" font-size="10.85" fill="#1a1a1a">LLC+C3aR<tspan font-size="7.78" dy="-5.4" style="stroke-width:0.25px">+/+</tspan><tspan dy="5.4"> TAMs</tspan></text>
<line x1="197.3" y1="466.7" x2="214.2" y2="466.7" stroke="#d8585e" stroke-width="1.0"/>
<circle cx="205.75" cy="466.7" r="2.4" fill="#e04a56"/>
<text x="223.6" y="472.34" font-size="10.85" fill="#1a1a1a">LLC+C3aR<tspan font-size="7.78" dy="-5.4" style="stroke-width:0.25px">-/-</tspan><tspan dy="5.4"> TAMs</tspan></text>
<line x1="325.4" y1="446.2" x2="325.4" y2="467.9" stroke="#1f1f1f" stroke-width="1.0"/>
<text x="329.95" y="460.7" font-size="8.0" fill="#1a1a1a" style="stroke-width:0.45px;stroke-linejoin:round">*</text>
<line x1="338.3" y1="421.6" x2="338.3" y2="471.3" stroke="#1f1f1f" stroke-width="1.0"/>
<text x="344.45" y="448.8" font-size="8.0" fill="#1a1a1a" style="stroke-width:0.45px;stroke-linejoin:round">*</text>
<text x="374.3" y="401.4" font-size="15" font-weight="bold" fill="#000">E</text>
<path d="M428.9 423.57V499.8H505.2" fill="none" stroke="#1f1f1f" stroke-width="1.1"/>
<line x1="424.9" y1="499.8" x2="428.9" y2="499.8" stroke="#1f1f1f" stroke-width="1.1"/>
<text x="423.1" y="503.55" font-size="10.9" text-anchor="end" fill="#1a1a1a">0.0</text>
<line x1="424.9" y1="478.02" x2="428.9" y2="478.02" stroke="#1f1f1f" stroke-width="1.1"/>
<text x="423.1" y="481.77" font-size="10.9" text-anchor="end" fill="#1a1a1a">0.2</text>
<line x1="424.9" y1="456.24" x2="428.9" y2="456.24" stroke="#1f1f1f" stroke-width="1.1"/>
<text x="423.1" y="459.99" font-size="10.9" text-anchor="end" fill="#1a1a1a">0.4</text>
<line x1="424.9" y1="434.46" x2="428.9" y2="434.46" stroke="#1f1f1f" stroke-width="1.1"/>
<text x="423.1" y="438.21" font-size="10.9" text-anchor="end" fill="#1a1a1a">0.6</text>
<line x1="444" y1="499.8" x2="444" y2="503.8" stroke="#1f1f1f" stroke-width="1.1"/>
<line x1="466.7" y1="499.8" x2="466.7" y2="503.8" stroke="#1f1f1f" stroke-width="1.1"/>
<line x1="489.6" y1="499.8" x2="489.6" y2="503.8" stroke="#1f1f1f" stroke-width="1.1"/>
<text x="401.4" y="463.5" font-size="10.8" text-anchor="middle" transform="rotate(-90 401.4 463.5)" fill="#1a1a1a">Tumor weight (g)</text>
<line x1="436.3" y1="468.7" x2="451.7" y2="468.7" stroke="#0a0a0a" stroke-width="1.1"/>
<line x1="444" y1="464.8" x2="444" y2="472.5" stroke="#0a0a0a" stroke-width="1.1"/>
<line x1="440.1" y1="464.8" x2="447.9" y2="464.8" stroke="#0a0a0a" stroke-width="1.1"/>
<line x1="440.1" y1="472.5" x2="447.9" y2="472.5" stroke="#0a0a0a" stroke-width="1.1"/>
<circle cx="447.5" cy="452.7" r="2.4" fill="#0a0a0a"/>
<circle cx="440.6" cy="459.6" r="2.4" fill="#0a0a0a"/>
<circle cx="444" cy="470.6" r="2.4" fill="#0a0a0a"/>
<circle cx="440.2" cy="473.1" r="2.4" fill="#0a0a0a"/>
<circle cx="448.3" cy="475.6" r="2.4" fill="#0a0a0a"/>
<circle cx="444" cy="479.6" r="2.4" fill="#0a0a0a"/>
<line x1="459.4" y1="460.6" x2="474.8" y2="460.6" stroke="#4442d8" stroke-width="1.1"/>
<line x1="466.7" y1="457.1" x2="466.7" y2="464.2" stroke="#4442d8" stroke-width="1.1"/>
<line x1="462.8" y1="457.1" x2="470.6" y2="457.1" stroke="#4442d8" stroke-width="1.1"/>
<line x1="462.8" y1="464.2" x2="470.6" y2="464.2" stroke="#4442d8" stroke-width="1.1"/>
<circle cx="470.4" cy="449.2" r="2.15" fill="#5855ea" stroke="#403ed4" stroke-width="0.7"/>
<circle cx="459.8" cy="455.4" r="2.15" fill="#5855ea" stroke="#403ed4" stroke-width="0.7"/>
<circle cx="463.7" cy="456.3" r="2.15" fill="#5855ea" stroke="#403ed4" stroke-width="0.7"/>
<circle cx="470.4" cy="462.3" r="2.15" fill="#5855ea" stroke="#403ed4" stroke-width="0.7"/>
<circle cx="470.4" cy="470.2" r="2.15" fill="#5855ea" stroke="#403ed4" stroke-width="0.7"/>
<circle cx="463.3" cy="471" r="2.15" fill="#5855ea" stroke="#403ed4" stroke-width="0.7"/>
<line x1="482.1" y1="476.7" x2="497.5" y2="476.7" stroke="#dc3a48" stroke-width="1.1"/>
<line x1="489.6" y1="472.5" x2="489.6" y2="480.8" stroke="#dc3a48" stroke-width="1.1"/>
<line x1="485.7" y1="472.5" x2="493.5" y2="472.5" stroke="#dc3a48" stroke-width="1.1"/>
<line x1="485.7" y1="480.8" x2="493.5" y2="480.8" stroke="#dc3a48" stroke-width="1.1"/>
<polygon points="489.8,460.86 492.2,465.42 487.4,465.42" fill="#e44c58" stroke="#d63444" stroke-width="0.7"/>
<polygon points="486.3,465.66 488.7,470.22 483.9,470.22" fill="#e44c58" stroke="#d63444" stroke-width="0.7"/>
<polygon points="493.5,472.16 495.9,476.72 491.1,476.72" fill="#e44c58" stroke="#d63444" stroke-width="0.7"/>
<polygon points="486,479.46 488.4,484.02 483.6,484.02" fill="#e44c58" stroke="#d63444" stroke-width="0.7"/>
<polygon points="494,483.36 496.4,487.92 491.6,487.92" fill="#e44c58" stroke="#d63444" stroke-width="0.7"/>
<polygon points="489.8,485.66 492.2,490.22 487.4,490.22" fill="#e44c58" stroke="#d63444" stroke-width="0.7"/>
<line x1="469" y1="434.4" x2="490.8" y2="434.4" stroke="#1f1f1f" stroke-width="0.9"/>
<text x="477.15" y="435.3" font-size="8.0" fill="#1a1a1a" style="stroke-width:0.45px;stroke-linejoin:round">*</text>
<text x="447.8" y="513.2" font-size="10.9" text-anchor="end" transform="rotate(-45 447.8 513.2)" fill="#1a1a1a">LLC</text>
<text x="470.6" y="513.2" font-size="10.9" text-anchor="end" transform="rotate(-45 470.6 513.2)" fill="#1a1a1a">LLC+C3aR<tspan font-size="7.85" dy="-4.36" style="stroke-width:0.25px">+/+</tspan><tspan dy="4.36">TAMs</tspan></text>
<text x="493.6" y="513.2" font-size="10.9" text-anchor="end" transform="rotate(-45 493.6 513.2)" fill="#1a1a1a">LLC+C3aR<tspan font-size="7.85" dy="-4.36" style="stroke-width:0.25px">-/-</tspan><tspan dy="4.36">TAMs</tspan></text>
</svg>
</body>
</html>
